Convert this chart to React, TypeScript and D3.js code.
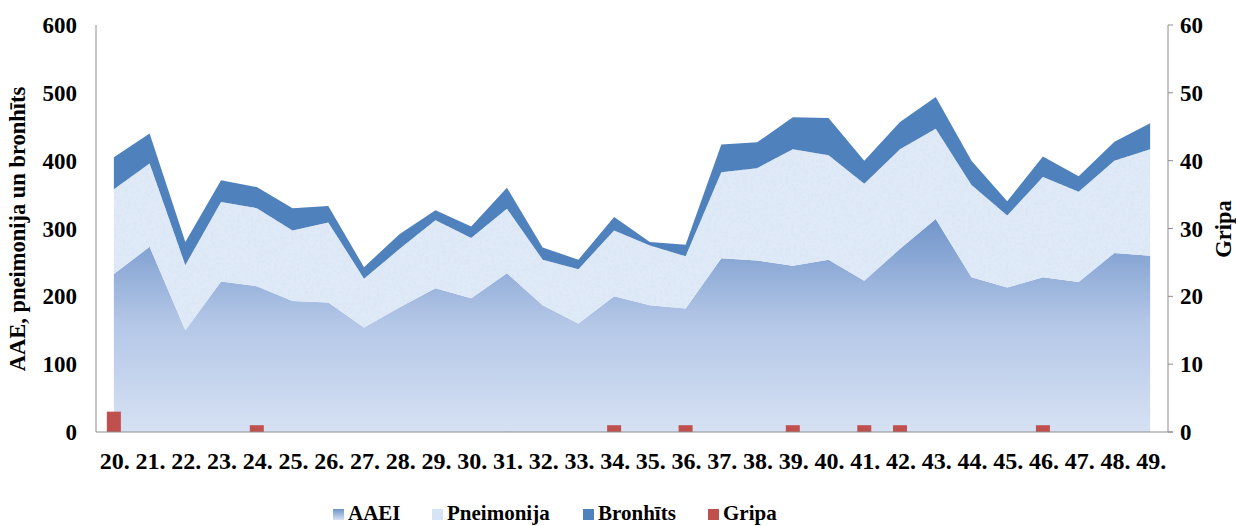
import React from "react";
import * as d3 from "d3";

const categories = ["20.","21.","22.","23.","24.","25.","26.","27.","28.","29.","30.","31.","32.","33.","34.","35.","36.","37.","38.","39.","40.","41.","42.","43.","44.","45.","46.","47.","48.","49."];
const aaei = [233,273,150,222,215,193,191,154,184,212,197,234,187,160,200,187,182,256,253,245,254,223,270,314,228,213,228,221,264,260];
const pneimonija = [125,123,96,117,115,104,118,72,86,100,89,95,67,80,97,88,77,127,136,172,154,143,147,133,136,106,148,133,136,157];
const bronhits = [47,44,34,32,31,33,24,17,22,15,17,31,18,14,20,5,17,41,38,47,55,34,40,47,36,21,30,23,28,38];
const gripa = [3,0,0,0,1,0,0,0,0,0,0,0,0,0,1,0,1,0,0,1,0,1,1,0,0,0,1,0,0,0];
const leftTicks = [0,100,200,300,400,500,600];
const rightTicks = [0,10,20,30,40,50,60];
const seriesNames = ["AAEI","Pneimonija","Bronhīts","Gripa"];

const W = 1236, H = 526;
const M = { left: 96, right: 1168, top: 25, bottom: 432 };
const FONT = "'Liberation Serif', 'Times New Roman', serif";

export default function App() {
  const x = d3.scaleBand<string>().domain(categories).range([M.left, M.right]);
  const cx = (i: number) => (x(categories[i]) as number) + x.bandwidth() / 2;
  const yL = d3.scaleLinear().domain([0, 600]).range([M.bottom, M.top]);
  const yR = d3.scaleLinear().domain([0, 60]).range([M.bottom, M.top]);

  const rows = categories.map((c, i) => ({ i, aaei: aaei[i], pneimonija: pneimonija[i], bronhits: bronhits[i] }));
  const stack = d3.stack<any>().keys(["aaei", "pneimonija", "bronhits"])(rows);
  const area = d3.area<any>().x((d: any) => cx(d.data.i)).y0((d: any) => yL(d[0])).y1((d: any) => yL(d[1]));

  const fills = ["url(#gAAEI)", "#E0EAF7", "#4F81BD"];
  const barW = 14;

  const legendItems = [
    { name: seriesNames[0], x: 333, fill: "url(#gLeg)" },
    { name: seriesNames[1], x: 432, fill: "#D6E4F5" },
    { name: seriesNames[2], x: 583, fill: "#4F81BD" },
    { name: seriesNames[3], x: 708, fill: "#C0504D" },
  ];

  return (
    <svg width={W} height={H} style={{ position: "absolute", left: 0, top: 0, background: "#fff" }} fontFamily={FONT}>
      <defs>
        <linearGradient id="gAAEI" gradientUnits="userSpaceOnUse" x1="0" y1={yL(320)} x2="0" y2={M.bottom}>
          <stop offset="0" stopColor="#6E93C9" />
          <stop offset="0.5" stopColor="#B4C7E7" />
          <stop offset="1" stopColor="#D6E1F3" />
        </linearGradient>
        <linearGradient id="gLeg" x1="0" y1="0" x2="0" y2="1">
          <stop offset="0" stopColor="#6E93C9" />
          <stop offset="1" stopColor="#D6E1F3" />
        </linearGradient>
        <filter id="noise" filterUnits="userSpaceOnUse" x={M.left} y={M.top} width={M.right - M.left} height={M.bottom - M.top}>
          <feTurbulence type="fractalNoise" baseFrequency="0.35" numOctaves="3" seed="4" />
          <feColorMatrix type="matrix" values="0 0 0 0 0.70  0 0 0 0 0.79  0 0 0 0 0.92  0 0 0 2.4 -0.9" />
        </filter>
        <clipPath id="pnClip">
          <path d={area(stack[1] as any) as string} />
        </clipPath>
      </defs>

      {stack.map((s, k) => (
        <path key={k} d={area(s as any) as string} fill={fills[k]} />
      ))}
      <g clipPath="url(#pnClip)">
        <rect x={M.left} y={M.top} width={M.right - M.left} height={M.bottom - M.top} fill="#fff" filter="url(#noise)" />
      </g>

      {gripa.map((v, i) => v > 0 ? (
        <rect key={i} x={cx(i) - barW / 2} y={yR(v)} width={barW} height={yR(0) - yR(v)} fill="#C0504D" />
      ) : null)}

      <line x1={M.left} x2={M.left} y1={M.top} y2={M.bottom} stroke="#8C8C8C" strokeWidth={1} />
      <line x1={M.right} x2={M.right} y1={M.top} y2={M.bottom} stroke="#8C8C8C" strokeWidth={1} />
      <line x1={M.left} x2={M.right + 5} y1={M.bottom} y2={M.bottom} stroke="#8C8C8C" strokeWidth={1} />
      {rightTicks.map((t) => (
        <line key={t} x1={M.right} x2={M.right + 5} y1={yR(t)} y2={yR(t)} stroke="#8C8C8C" />
      ))}

      {leftTicks.map((t) => (
        <text key={t} x={77} y={yL(t)} dy="0.35em" textAnchor="end" fontSize={23} fontWeight="bold">{t}</text>
      ))}
      {rightTicks.map((t) => (
        <text key={t} x={1180} y={yR(t)} dy="0.35em" textAnchor="start" fontSize={23} fontWeight="bold">{t}</text>
      ))}
      {categories.map((c, i) => (
        <text key={c} x={cx(i) + 1} y={469} textAnchor="middle" fontSize={24} fontWeight="bold">{c}</text>
      ))}

      <text transform={`translate(25, ${229}) rotate(-90)`} textAnchor="middle" fontSize={22.5} fontWeight="bold">AAE, pneimonija un bronhīts</text>
      <text transform={`translate(1231, ${229}) rotate(-90)`} textAnchor="middle" fontSize={22.5} fontWeight="bold">Gripa</text>

      {legendItems.map((l) => (
        <g key={l.name}>
          <rect x={l.x} y={509} width={11} height={11} fill={l.fill} />
          <text x={l.x + 15} y={520} fontSize={21} fontWeight="bold">{l.name}</text>
        </g>
      ))}
    </svg>
  );
}
